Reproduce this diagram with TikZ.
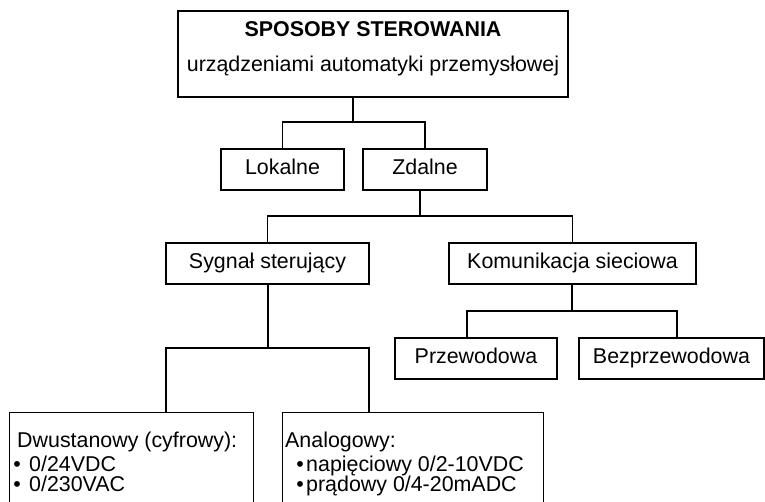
\documentclass[tikz,border=0pt]{standalone}
\usepackage{fontspec}
\setmainfont{Liberation Sans}
\begin{document}
\begin{tikzpicture}[x=1pt,y=-1pt,
  box/.style={draw, line width=1.4pt, inner sep=0pt, minimum height=41pt, text height=15pt, text depth=4.5pt, font=\fontsize{21.4}{25}\selectfont},
  topbox/.style={draw, line width=2.8pt, inner sep=0pt},
  txt/.style={inner sep=0pt, font=\fontsize{21.4}{25}\selectfont},
  conn/.style={line width=1.4pt}]
\useasboundingbox (0,0) rectangle (765,502);
\clip (0,0) rectangle (765,502);
% top box
\node[topbox, minimum width=390pt, minimum height=86pt] (top) at (373,54) {};
\node[txt, anchor=base, font=\fontsize{21.4}{25}\selectfont\bfseries] (title) at (373,37) {SPOSOBY STEROWANIA};
\node[txt, anchor=base] (subtitle) at (373,72) {urządzeniami automatyki przemysłowej};
% level 2
\node[box, minimum width=123pt] (lok) at (282.5,169.5) {Lokalne};
\node[box, minimum width=124pt] (zd) at (425,169.5) {Zdalne};
% level 3
\node[box, minimum width=203pt] (syg) at (267.5,263.5) {Sygnał sterujący};
\node[box, minimum width=247pt] (kom) at (572.5,263.5) {Komunikacja sieciowa};
% level 4 right
\node[box, minimum width=162pt] (prz) at (476,358.5) {Przewodowa};
\node[box, minimum width=185pt] (bez) at (671.5,358.5) {Bezprzewodowa};
% level 4 left
\node[box, minimum width=244pt, minimum height=110pt, anchor=north west] (dw) at (9,412) {};
\node[box, minimum width=261pt, minimum height=110pt, anchor=north west] (an) at (282,412) {};
\node[txt, anchor=base west] (dw1) at (17,447) {Dwustanowy (cyfrowy):};
\node[txt, anchor=base] (dwb1) at (17,471) {•};
\node[txt, anchor=base west] (dw2) at (29,471) {0/24VDC};
\node[txt, anchor=base] (dwb2) at (17,491) {•};
\node[txt, anchor=base west] (dw3) at (29,491) {0/230VAC};
\node[txt, anchor=base west] (an1) at (285,447) {Analogowy:};
\node[txt, anchor=base] (anb1) at (300,471) {•};
\node[txt, anchor=base west] (an2) at (306,471) {napięciowy 0/2-10VDC};
\node[txt, anchor=base] (anb2) at (300,491) {•};
\node[txt, anchor=base west] (an3) at (306,491) {prądowy 0/4-20mADC};
% connectors
\coordinate (b1) at (353,122);
\draw[conn] (top.south -| b1) -- (b1);
\draw[conn] (lok.north) |- (b1) -| (zd.north);
\coordinate (b2) at (420,216);
\draw[conn] (zd.south -| b2) -- (b2);
\draw[conn] (syg.north) |- (b2) -| (kom.north);
\coordinate (b3) at (268,348);
\coordinate (d1) at (166,348);
\coordinate (a1) at (369,348);
\draw[conn] (syg.south -| b3) -- (b3);
\draw[conn] (dw.north -| d1) -- (d1) -- (a1) -- (an.north -| a1);
\coordinate (b4) at (572,311);
\coordinate (p1) at (467,311);
\coordinate (q1) at (677,311);
\draw[conn] (kom.south -| b4) -- (b4);
\draw[conn] (prz.north -| p1) -- (p1) -- (q1) -- (bez.north -| q1);
\end{tikzpicture}
\end{document}
